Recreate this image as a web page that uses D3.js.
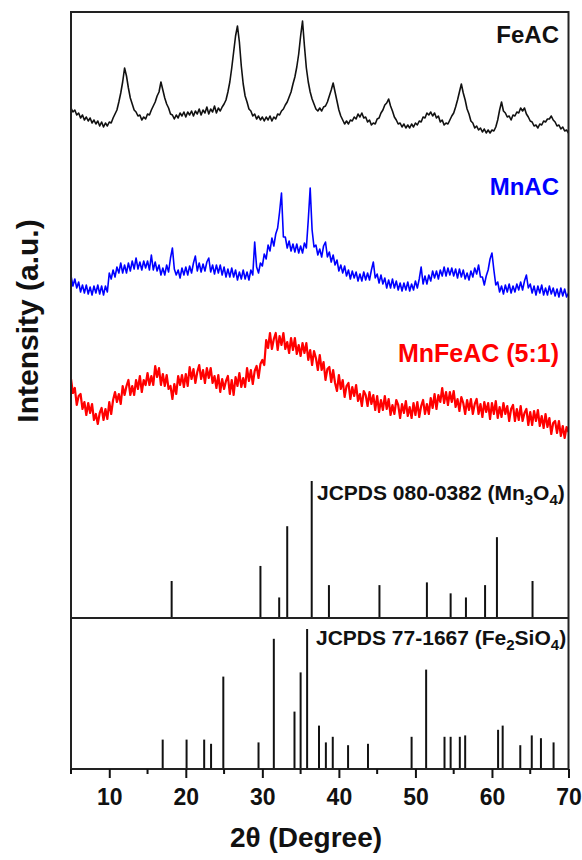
<!DOCTYPE html>
<html>
<head>
<meta charset="utf-8">
<script src="https://cdn.jsdelivr.net/npm/d3@7/dist/d3.min.js"></script>
<style>
  body { margin: 0; background: #fff; }
  svg { display: block; }
  text { font-family: "Liberation Sans", Arial, Helvetica, sans-serif; font-weight: bold; }
</style>
</head>
<body>
<svg id="chart" width="582" height="860"></svg>
<script>
// ---- XRD patterns: intensity (a.u.) sampled every 0.25 deg from 5 to 70 deg 2-theta ----
const thetaStart = 5;
const thetaStep = 0.25;

const feAC = [
  32,28,30,25,27,22,25,20,23,19,22,17,20,16,19,14,18,13,17,14,
  18,17,22,26,30,38,47,58,72,64,52,42,36,30,28,24,25,20,23,21,
  26,25,30,34,38,44,48,58,50,42,36,32,26,25,21,25,22,27,24,28,
  23,28,25,29,24,29,26,31,25,30,27,33,26,31,28,34,27,32,29,33,
  36,40,48,58,72,88,104,114,98,74,56,44,38,31,29,24,26,21,24,20,
  23,19,23,20,24,19,23,21,26,25,29,31,35,38,43,48,56,63,73,86,
  104,119,94,72,58,48,41,36,31,29,32,29,33,34,38,44,50,57,48,39,
  30,24,20,16,19,16,20,19,23,21,26,23,27,22,23,18,20,15,17,16,
  21,22,27,30,35,37,41,34,29,23,20,16,17,13,16,12,15,12,16,13,
  17,15,19,18,23,22,27,25,28,24,27,22,24,18,20,15,17,16,20,24,
  27,33,40,48,56,47,40,31,26,19,17,12,14,10,12,8,11,7,10,7,
  10,9,13,20,30,38,29,27,23,24,20,25,24,28,27,32,29,32,26,23,
  19,18,14,15,12,16,15,19,18,21,21,24,20,18,14,15,11,13,9,10,
  7
];

const mnAC = [
  24,14,21,12,18,8,15,7,15,6,13,5,14,7,15,6,14,5,14,8,
  27,21,30,23,33,27,37,27,35,27,37,29,39,31,42,31,38,30,39,32,
  39,30,45,30,38,29,35,25,32,25,35,28,42,52,31,25,30,22,32,25,
  33,25,34,27,37,44,29,37,28,36,29,38,42,28,35,26,35,27,35,25,
  33,23,31,23,32,23,30,20,28,21,30,21,28,20,30,25,58,33,27,37,
  34,46,41,55,49,62,54,66,72,88,107,63,63,52,59,49,56,48,56,47,
  54,47,57,52,80,112,70,53,55,45,51,43,54,58,43,48,38,45,35,40,
  29,35,27,34,24,30,21,29,22,28,19,26,19,28,20,27,20,30,38,22,
  26,17,25,16,22,12,20,12,21,12,19,10,17,9,17,10,18,9,16,10,
  19,12,21,33,16,24,16,25,19,29,22,29,21,30,24,33,24,32,25,32,
  24,31,22,31,23,30,21,27,20,29,23,32,26,35,23,23,15,24,30,41,
  47,30,15,18,8,14,6,15,8,16,7,14,8,16,10,18,10,19,25,12,
  16,7,14,5,14,7,15,5,12,5,14,6,12,4,11,3,12,4,11,3,
  7
];

const mnFeAC = [
  61,47,52,35,44,46,31,38,25,37,27,36,20,26,16,27,32,20,31,21,
  38,26,40,48,38,46,36,54,45,54,60,45,54,45,60,51,64,48,60,55,
  67,55,64,55,74,63,72,55,66,54,65,51,54,41,56,46,64,55,65,53,
  66,54,73,61,71,57,68,75,61,70,57,72,62,72,57,64,52,65,48,61,
  51,59,64,46,60,45,63,54,67,53,62,53,72,59,70,56,69,74,62,76,
  80,75,100,92,107,91,101,107,90,104,95,107,91,98,87,102,90,102,86,95,
  84,97,87,97,80,90,75,89,82,70,85,70,78,60,71,73,58,70,57,49,
  65,51,60,43,54,57,41,53,44,55,39,46,34,49,45,34,48,36,45,30,
  44,28,40,30,44,31,41,25,35,26,40,35,22,36,27,39,24,33,22,37,
  25,38,23,34,40,26,36,26,42,32,46,31,45,38,52,37,48,35,48,38,
  49,33,41,29,43,37,26,40,30,41,26,36,41,26,36,23,38,28,37,21,
  37,26,39,22,33,23,37,26,34,19,31,35,19,31,20,34,19,27,31,15,
  28,15,29,19,30,14,24,12,26,13,22,6,17,19,7,19,4,14,2,13,
  8
];

const seriesNames   = ["FeAC", "MnAC", "MnFeAC (5:1)"];
const seriesColors  = ["#111111", "#0000ff", "#ff0000"];
const seriesWidths  = [1.6, 1.6, 2.2];
const seriesOffsets = [478, 318, 178];   // vertical stacking offsets (a.u.)

// ---- Reference cards: peak positions (2-theta) and relative intensities ----
const mn3o4Pos = [18.15, 29.75, 32.2, 33.25, 36.45, 38.7, 45.3, 51.5, 54.6, 56.6, 59.1, 60.65, 65.3];
const mn3o4Int = [27, 38, 15, 67, 100, 24, 24, 26, 18, 15, 24, 59, 27];

const fe2sio4Pos = [16.98, 20.1, 22.4, 23.3, 24.9, 29.5, 31.5, 34.2, 35.0, 35.85, 37.4, 38.3, 39.2,
                    41.2, 43.8, 49.5, 51.4, 53.8, 54.6, 55.8, 56.5, 60.8, 61.4, 63.7, 65.2, 66.4, 68.05];
const fe2sio4Int = [21, 21, 21, 18, 66, 19, 93, 41, 69, 100, 31, 19, 23,
                    17, 18, 23, 71, 23, 23, 23, 24, 28, 31, 17, 24, 22, 19];

const xTicks      = [10, 20, 30, 40, 50, 60, 70];
const xMinorTicks = [5, 15, 25, 35, 45, 55, 65];

// ---- Layout ----
const svg = d3.select("#chart");
const plotLeft = 71, plotRight = 568.5, plotTop = 12, plotBottom = 769, divider = 618;

const x = d3.scaleLinear().domain([5, 70]).range([plotLeft, plotRight]);
const yCurve = d3.scaleLinear().domain([0, 606]).range([divider, plotTop]);
const yMn = d3.scaleLinear().domain([0, 100]).range([divider, 481]);
const yFe = d3.scaleLinear().domain([0, 100]).range([plotBottom, 629]);

svg.append("defs").append("clipPath").attr("id", "plotClip")
  .append("rect").attr("x", plotLeft).attr("y", plotTop)
  .attr("width", plotRight - plotLeft).attr("height", divider - plotTop);

// ---- Patterns ----
const curves = svg.append("g").attr("clip-path", "url(#plotClip)");
[feAC, mnAC, mnFeAC].forEach((vals, s) => {
  const line = d3.line()
    .x((d, i) => x(thetaStart + i * thetaStep))
    .y(d => yCurve(d + seriesOffsets[s]));
  curves.append("path")
    .attr("d", line(vals))
    .attr("fill", "none")
    .attr("stroke", seriesColors[s])
    .attr("stroke-width", seriesWidths[s])
    .attr("stroke-linejoin", "round");
});

// Series labels
const labelBaselines = [43, 195, 362];
seriesNames.forEach((name, s) => {
  svg.append("text")
    .attr("x", 559).attr("y", labelBaselines[s])
    .attr("text-anchor", "end")
    .attr("font-size", s === 2 ? 25 : 24)
    .attr("fill", s === 0 ? "#111" : seriesColors[s])
    .text(name);
});

// ---- Stick patterns ----
svg.append("g").selectAll("line").data(mn3o4Pos).join("line")
  .attr("x1", d => x(d)).attr("x2", d => x(d))
  .attr("y1", yMn(0)).attr("y2", (d, i) => yMn(mn3o4Int[i]))
  .attr("stroke", "#111").attr("stroke-width", 2);

svg.append("g").selectAll("line").data(fe2sio4Pos).join("line")
  .attr("x1", d => x(d)).attr("x2", d => x(d))
  .attr("y1", yFe(0)).attr("y2", (d, i) => yFe(fe2sio4Int[i]))
  .attr("stroke", "#111").attr("stroke-width", 2);

// Card labels with subscripted formula digits
function cardLabel(xp, yp, parts) {
  const t = svg.append("text").attr("x", xp).attr("y", yp)
    .attr("font-size", 21).attr("fill", "#111");
  let lowered = false;
  parts.forEach(([str, sub]) => {
    const dy = sub && !lowered ? 5 : (!sub && lowered ? -5 : 0);
    lowered = !!sub;
    t.append("tspan").attr("font-size", sub ? 15 : 21).attr("dy", dy).text(str);
  });
}
cardLabel(317, 500, [["JCPDS 080-0382 (Mn", 0], ["3", 1], ["O", 0], ["4", 1], [")", 0]]);
cardLabel(316, 645, [["JCPDS 77-1667 (Fe", 0], ["2", 1], ["SiO", 0], ["4", 1], [")", 0]]);

// ---- Frame ----
svg.append("rect")
  .attr("x", plotLeft).attr("y", plotTop)
  .attr("width", plotRight - plotLeft).attr("height", plotBottom - plotTop)
  .attr("fill", "none").attr("stroke", "#222").attr("stroke-width", 2);
svg.append("line")
  .attr("x1", plotLeft).attr("x2", plotRight)
  .attr("y1", divider).attr("y2", divider)
  .attr("stroke", "#222").attr("stroke-width", 2);

// ---- Bottom axis ----
const axis = svg.append("g").attr("transform", `translate(0,${plotBottom})`)
  .call(d3.axisBottom(x).tickValues(xTicks).tickSize(9).tickPadding(11).tickSizeOuter(0));
axis.select(".domain").remove();
axis.selectAll(".tick line").attr("stroke", "#111").attr("stroke-width", 2);
axis.selectAll(".tick text")
  .attr("font-size", 23).attr("fill", "#111")
  .attr("font-family", "'Liberation Sans', Arial, sans-serif").attr("font-weight", "bold");

svg.append("g").selectAll("line").data(xMinorTicks).join("line")
  .attr("x1", d => x(d)).attr("x2", d => x(d))
  .attr("y1", plotBottom).attr("y2", plotBottom + 5)
  .attr("stroke", "#111").attr("stroke-width", 2);

// Axis titles
svg.append("text")
  .attr("x", 306).attr("y", 847)
  .attr("text-anchor", "middle").attr("font-size", 28).attr("fill", "#111")
  .text("2θ (Degree)");

svg.append("text")
  .attr("transform", "translate(38,321) rotate(-90)")
  .attr("text-anchor", "middle").attr("font-size", 30).attr("fill", "#111")
  .text("Intensity (a.u.)");
</script>
</body>
</html>
